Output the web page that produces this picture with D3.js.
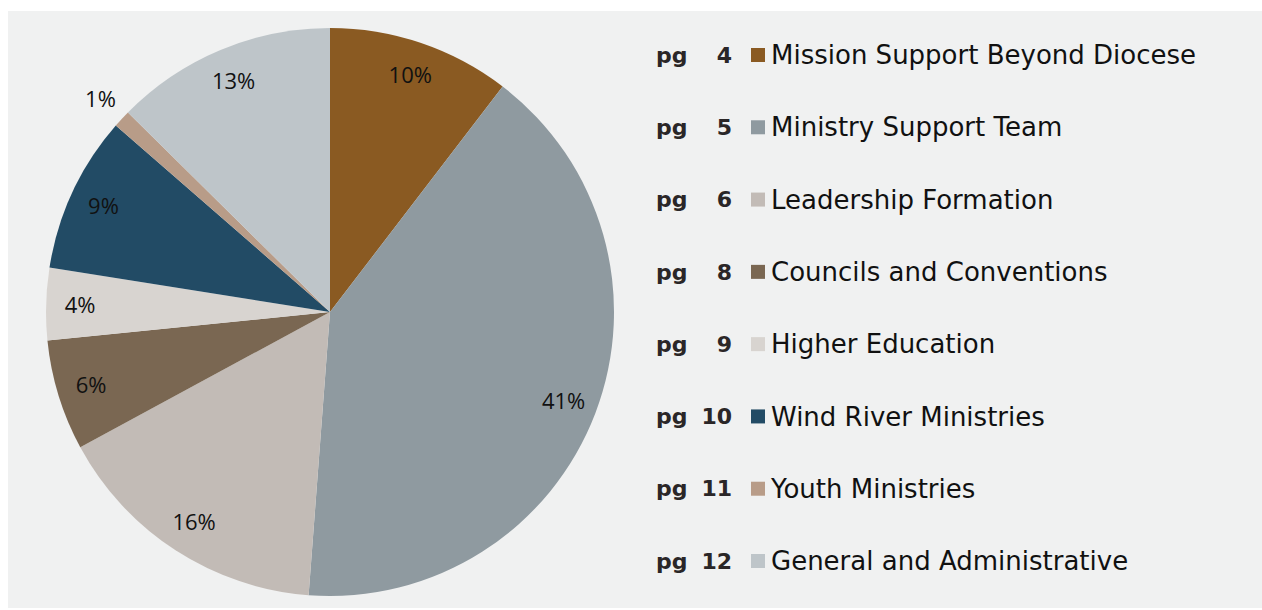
<!DOCTYPE html>
<html>
<head>
<meta charset="utf-8">
<script src="https://cdn.jsdelivr.net/npm/d3@7"></script>
<style>
  body { margin: 0; background: #fff; }
  svg { display: block; }
</style>
</head>
<body>
<svg width="1262" height="610"></svg>
<script>
// budget share by ministry area, clockwise from 12 o'clock
const categories = ['Mission Support Beyond Diocese', 'Ministry Support Team', 'Leadership Formation',
  'Councils and Conventions', 'Higher Education', 'Wind River Ministries', 'Youth Ministries', 'General and Administrative'];
const pages = [4, 5, 6, 8, 9, 10, 11, 12];
const values = [10.4, 40.8, 15.9, 6.3, 4.1, 8.9, 1.0, 12.6];
const labels = ['10%', '41%', '16%', '6%', '4%', '9%', '1%', '13%'];
const colors = ['#8a5a22', '#8f9aa0', '#c2bbb6', '#7a6752', '#d8d4d0', '#224b65', '#b89c88', '#bec5c9'];

const svg = d3.select('svg');
svg.append('rect')
  .attr('x', 8).attr('y', 11)
  .attr('width', 1254).attr('height', 597)
  .attr('fill', '#f0f1f1');

const r = 284;
const data = categories.map((c, i) => ({ name: c, value: values[i], label: labels[i], color: colors[i], page: pages[i] }));
const pie = d3.pie().value(d => d.value).sort(null);
const arc = d3.arc().innerRadius(0).outerRadius(r);
const labelArc = d3.arc().innerRadius(250).outerRadius(250);
const outArc = d3.arc().innerRadius(313).outerRadius(313);

const g = svg.append('g').attr('transform', 'translate(330, 312)');
const arcs = pie(data);

g.selectAll('path')
  .data(arcs)
  .join('path')
  .attr('d', arc)
  .attr('fill', d => d.data.color);

g.selectAll('text')
  .data(arcs)
  .join('text')
  .attr('transform', d => `translate(${(d.data.value < 2 ? outArc : labelArc).centroid(d)})`)
  .attr('text-anchor', 'middle')
  .attr('dy', '0.35em')
  .style('font-family', 'Open Sans, sans-serif')
  .style('font-size', '22px')
  .attr('fill', '#111')
  .text(d => d.data.label);

// legend
const y = d3.scalePoint().domain(categories).range([55, 561]);
const leg = svg.append('g').selectAll('g')
  .data(data)
  .join('g')
  .attr('transform', d => `translate(0, ${y(d.name)})`);

leg.append('text')
  .attr('x', 656)
  .attr('dy', '0.35em')
  .style('font-family', 'DejaVu Sans, sans-serif')
  .style('font-weight', 'bold')
  .style('font-size', '22px')
  .attr('fill', '#2a2627')
  .text('pg');

leg.append('text')
  .attr('x', 732)
  .attr('text-anchor', 'end')
  .attr('dy', '0.35em')
  .style('font-family', 'DejaVu Sans, sans-serif')
  .style('font-weight', 'bold')
  .style('font-size', '22px')
  .attr('fill', '#2a2627')
  .text(d => d.page);

leg.append('rect')
  .attr('x', 751).attr('y', -7)
  .attr('width', 14).attr('height', 14)
  .attr('fill', d => d.color);

leg.append('text')
  .attr('x', 771)
  .attr('dy', '0.35em')
  .style('font-family', 'DejaVu Sans, sans-serif')
  .style('font-size', '26px')
  .attr('fill', '#111')
  .text(d => d.name);
</script>
</body>
</html>
